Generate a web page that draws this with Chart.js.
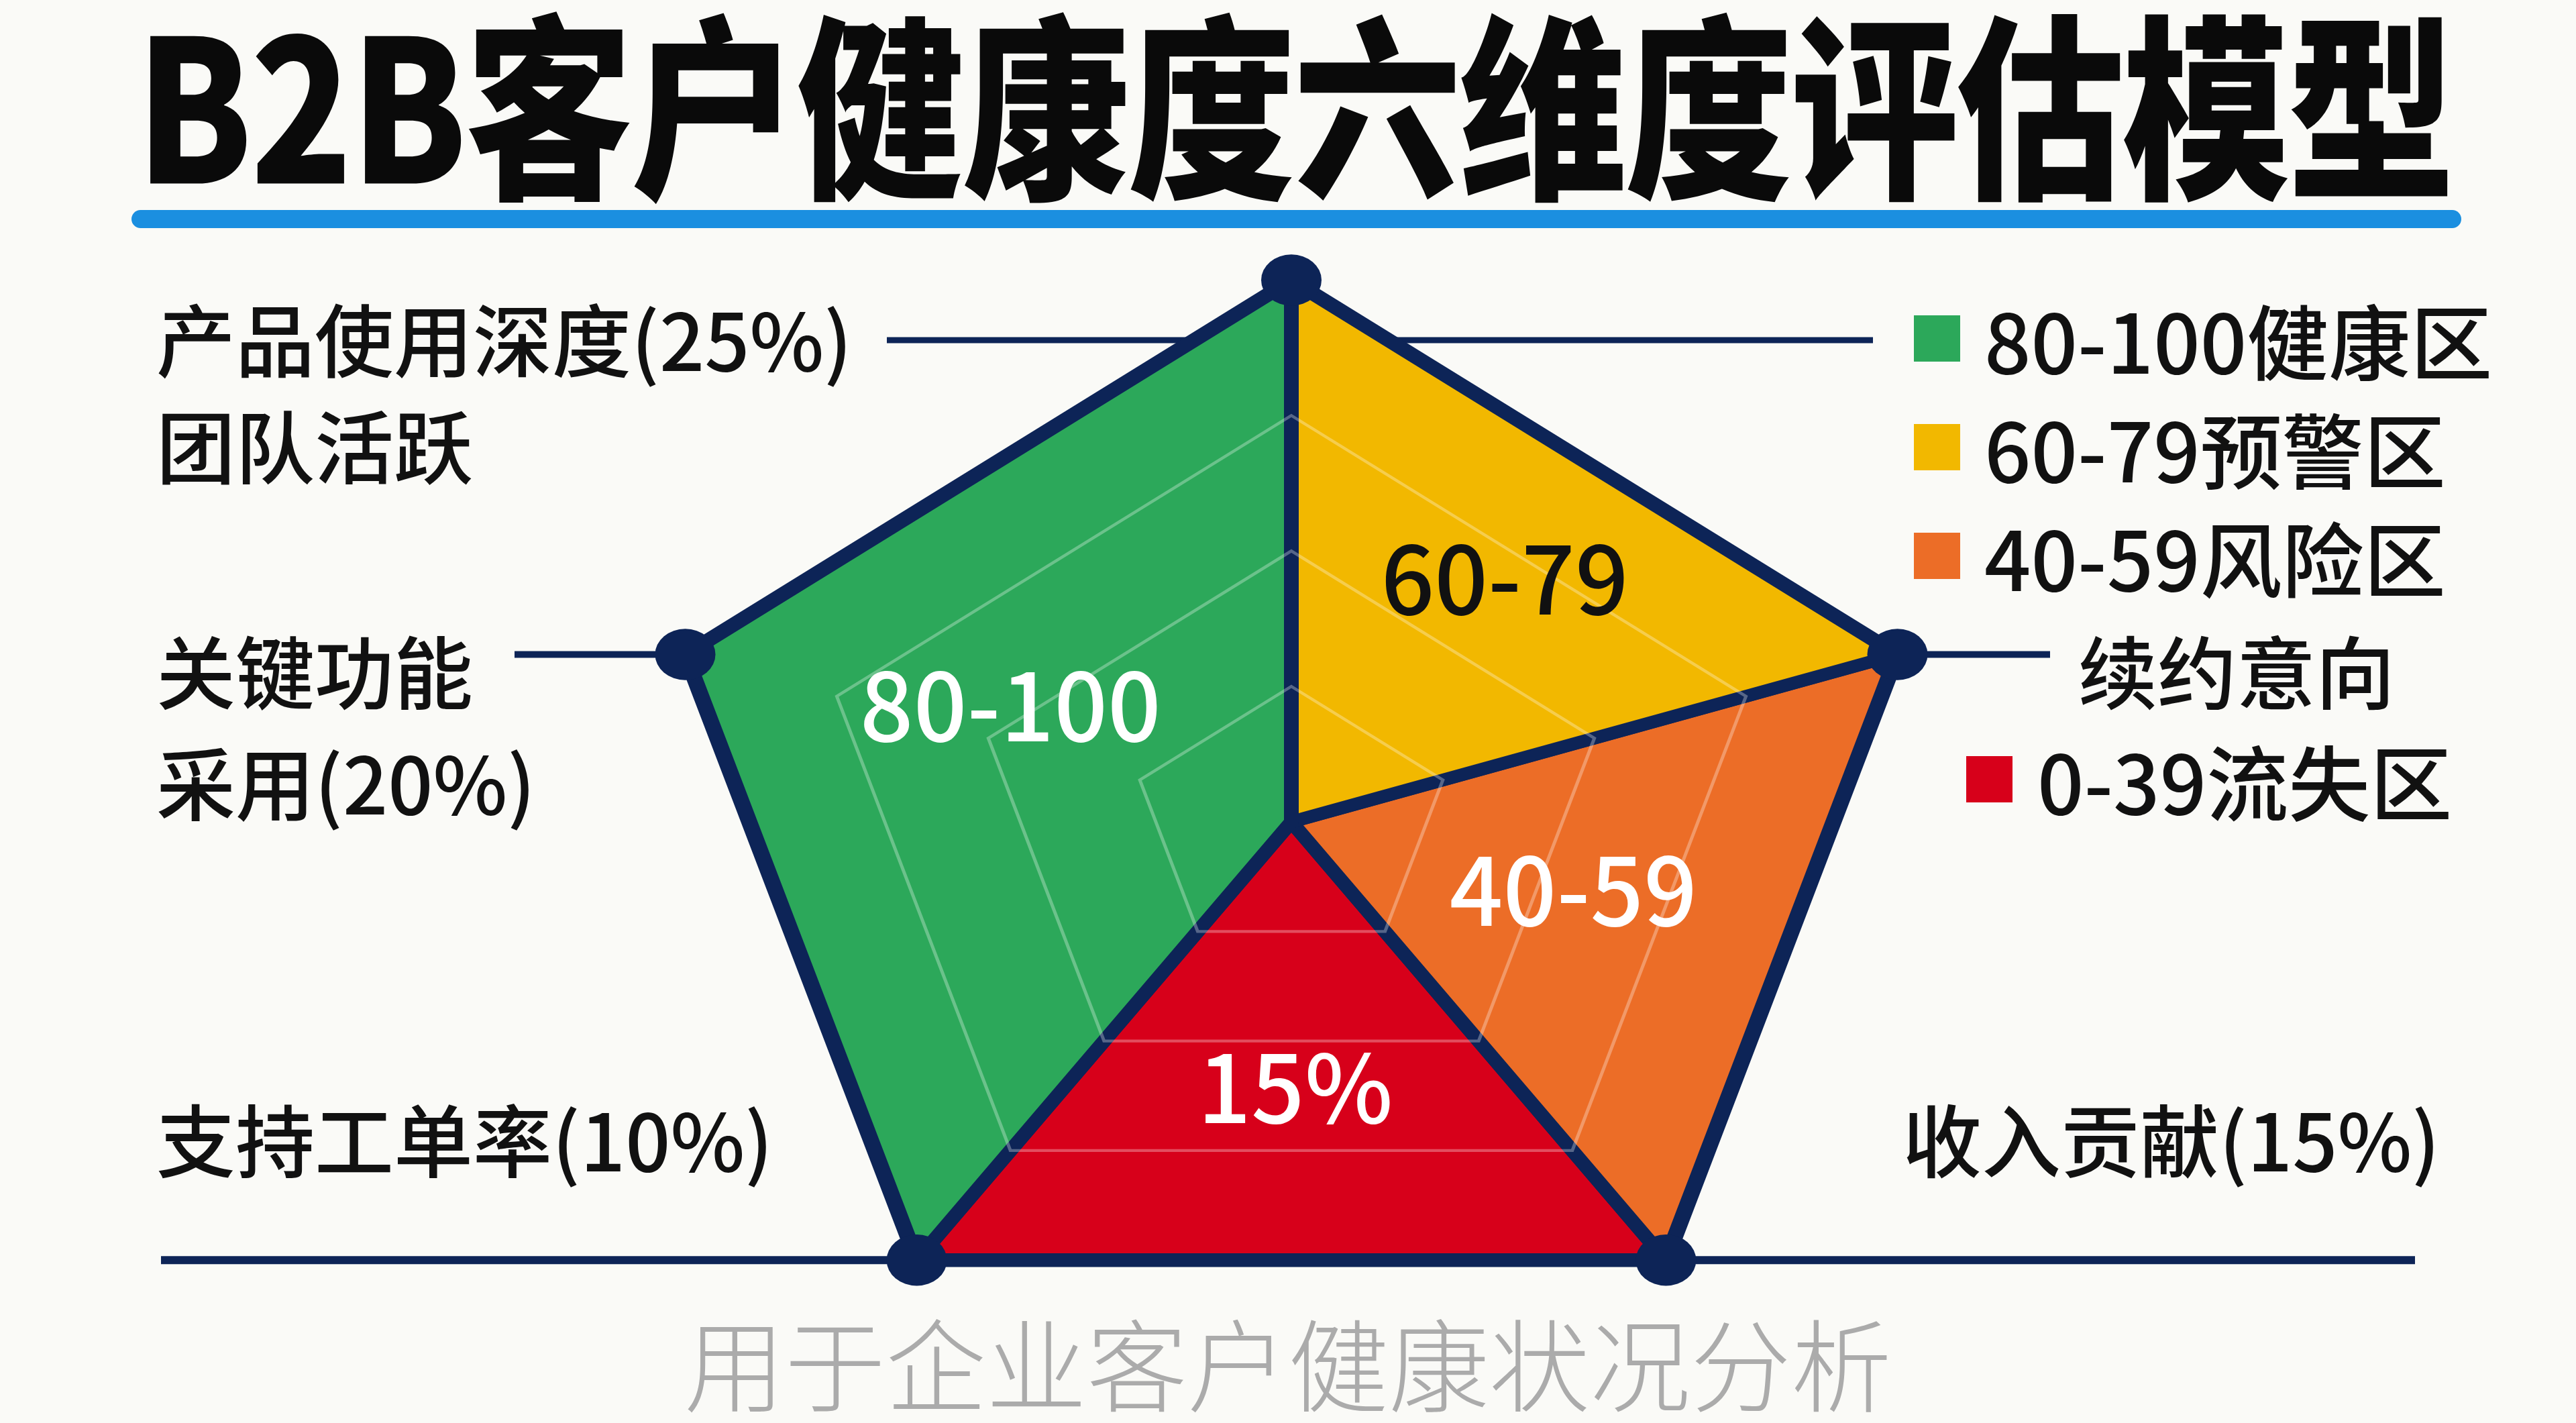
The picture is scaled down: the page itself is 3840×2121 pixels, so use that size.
<!DOCTYPE html>
<html lang="zh-CN">
<head>
<meta charset="utf-8">
<title>B2B客户健康度六维度评估模型</title>
<script src="https://cdn.jsdelivr.net/npm/chart.js@4.4.1/dist/chart.umd.min.js"></script>
<style>
  html, body { margin: 0; padding: 0; }
  body {
    width: 3840px; height: 2121px; overflow: hidden; position: relative;
    background: #fafaf7;
    font-family: 'Noto Sans CJK SC', 'Noto Sans', sans-serif; color: #111;
  }
  #chart { position: absolute; left: 0; top: 0; }
  .txt { position: absolute; line-height: 1; white-space: nowrap; transform: translateY(-50%); z-index: 2; }
  #title {
    left: 20px; width: 3820px; top: 145px; text-align: center;
    font-size: 250px; font-weight: 900; color: #0a0a0a; letter-spacing: -3px;
    transform: translateY(-50%) scaleY(1.18);
  }
  #rule {
    position: absolute; left: 196px; top: 313px; width: 3473px; height: 27px;
    border-radius: 14px; background: #1b8fe0;
  }
  #subtitle {
    left: 0; width: 3840px; top: 2028px; text-align: center;
    font-size: 150px; font-weight: 300; color: #ababab;
  }
  .dim { font-size: 118px; font-weight: 500; }
  .legend { font-size: 122px; font-weight: 500; }
  .swatch { position: absolute; width: 69px; height: 69px; z-index: 2; }
</style>
</head>
<body>
<div id="title" class="txt">B2B客户健康度六维度评估模型</div>
<div id="rule"></div>
<canvas id="chart" width="3840" height="2200"></canvas>
<div id="subtitle" class="txt">用于企业客户健康状况分析</div>
<script>
// 五个评估维度（雷达轴，从顶部顺时针）
const dimensions = ['产品使用深度', '续约意向', '收入贡献', '支持工单率', '关键功能采用'];
// 轴旁说明文字
const dimensionTexts = ['产品使用深度(25%)', '团队活跃', '关键功能', '采用(20%)', '支持工单率(10%)', '收入贡献(15%)', '续约意向'];

// 健康区间
const zoneNames = ['80-100健康区', '60-79预警区', '40-59风险区', '0-39流失区'];
const zoneTags = ['80-100', '60-79', '40-59', '15%'];
const zoneColors = ['#2ca85a', '#f2b800', '#ec6d27', '#d7001a'];

// 每个区在五个轴上的取值（0 = 中心）
const healthyValues = [100, 0, 0, 100, 100];
const warningValues = [100, 100, 0, 0, 0];
const riskValues = [0, 100, 100, 0, 0];
const churnValues = [0, 0, 100, 100, 0];
const outlineValues = [100, 100, 100, 100, 100];

const NAVY = '#0d2457';
const SQUISH = 0.85;   // pentagon is drawn a bit flatter than a regular one

// where the text bits sit (left edge, vertical centre)
const dimensionSpots = [[233, 502], [233, 661], [233, 997], [233, 1163], [233, 1695], [2836, 1695], [3098, 997]];
const legendSpots = [[2853, 2958, 504], [2853, 2958, 666], [2853, 2958, 828], [2931, 3037, 1161]];
// zone tag placement as [axis index, value along it]
const tagSpots = [[4.11, 49], [0.51, 56], [1.47, 46], [2.49, 49]];
const tagColors = ['#ffffff', '#111111', '#ffffff', '#ffffff'];

dimensionTexts.forEach((t, i) => {
    const el = document.createElement('div');
    el.className = 'txt dim';
    el.textContent = t;
    el.style.left = dimensionSpots[i][0] + 'px';
    el.style.top = dimensionSpots[i][1] + 'px';
    document.body.appendChild(el);
});

zoneNames.forEach((name, i) => {
    const [sx, tx, y] = legendSpots[i];
    const sw = document.createElement('div');
    sw.className = 'swatch';
    sw.style.left = sx + 'px';
    sw.style.top = (y - 34) + 'px';
    sw.style.background = zoneColors[i];
    document.body.appendChild(sw);
    const el = document.createElement('div');
    el.className = 'txt legend';
    el.textContent = name;
    el.style.left = tx + 'px';
    el.style.top = y + 'px';
    document.body.appendChild(el);
});

function squashed(r, p) {
    return { x: p.x, y: r.yCenter + (p.y - r.yCenter) * SQUISH };
}

function vertex(r, i) {
    return squashed(r, r.getPointPosition(i, r.getDistanceFromCenterForValue(100)));
}

function hline(ctx, x1, x2, y) {
    ctx.beginPath();
    ctx.moveTo(x1, y);
    ctx.lineTo(x2, y);
    ctx.stroke();
}

// leader lines go behind the pentagon, zone tags on top of it
const pentagonPlugin = {
    id: 'pentagon',
    beforeDraw(chart) {
        const r = chart.scales.r;
        const ctx = chart.ctx;
        const left = vertex(r, 4), right = vertex(r, 1), bottom = vertex(r, 3);
        ctx.save();
        ctx.strokeStyle = NAVY;
        ctx.lineWidth = 9;
        hline(ctx, 1322, 2792, 507);
        ctx.lineWidth = 10;
        hline(ctx, 767, left.x, left.y);
        hline(ctx, right.x, 3056, right.y);
        ctx.lineWidth = 12;
        hline(ctx, 240, 3600, bottom.y);
        ctx.restore();

        ctx.save();
        ctx.translate(0, r.yCenter);
        ctx.scale(1, SQUISH);
        ctx.translate(0, -r.yCenter);
    },
    afterDraw(chart) {
        const r = chart.scales.r;
        const ctx = chart.ctx;
        ctx.restore();
        ctx.save();
        ctx.font = "500 140px 'Noto Sans CJK SC', 'Noto Sans', sans-serif";
        ctx.textAlign = 'center';
        ctx.textBaseline = 'middle';
        zoneTags.forEach((tag, i) => {
            const [idx, val] = tagSpots[i];
            const p = squashed(r, r.getPointPosition(idx, r.getDistanceFromCenterForValue(val)));
            ctx.fillStyle = tagColors[i];
            ctx.fillText(tag, p.x, p.y);
        });
        ctx.restore();
    }
};

function zoneDataset(label, data, color) {
    return {
        label: label,
        data: data,
        fill: true,
        backgroundColor: color,
        borderColor: NAVY,
        borderWidth: 22,
        borderJoinStyle: 'round',
        pointRadius: 0,
        clip: false
    };
}

const ctx = document.getElementById('chart').getContext('2d');
new Chart(ctx, {
    type: 'radar',
    data: {
        labels: dimensions,
        datasets: [
            {
                label: 'outline',
                data: outlineValues,
                fill: false,
                borderColor: NAVY,
                borderWidth: 24,
                borderJoinStyle: 'round',
                pointRadius: 45,
                pointBackgroundColor: NAVY,
                pointBorderWidth: 0,
                clip: false
            },
            zoneDataset(zoneNames[0], healthyValues, zoneColors[0]),
            zoneDataset(zoneNames[1], warningValues, zoneColors[1]),
            zoneDataset(zoneNames[2], riskValues, zoneColors[2]),
            zoneDataset(zoneNames[3], churnValues, zoneColors[3])
        ]
    },
    options: {
        responsive: false,
        devicePixelRatio: 1,
        animation: false,
        events: [],
        layout: { padding: { left: 975, right: 965, top: 275, bottom: 25 } },
        elements: { line: { tension: 0 } },
        plugins: {
            legend: { display: false },
            tooltip: { enabled: false }
        },
        scales: {
            r: {
                min: 0,
                max: 100,
                ticks: { display: false, stepSize: 25 },
                pointLabels: { display: false },
                angleLines: { display: false },
                grid: {
                    z: 1,
                    lineWidth: 5,
                    color: c => (c.tick && c.tick.value > 0 && c.tick.value < 100)
                        ? 'rgba(255,255,255,0.3)' : 'rgba(0,0,0,0)'
                }
            }
        }
    },
    plugins: [pentagonPlugin]
});
</script>
</body>
</html>
